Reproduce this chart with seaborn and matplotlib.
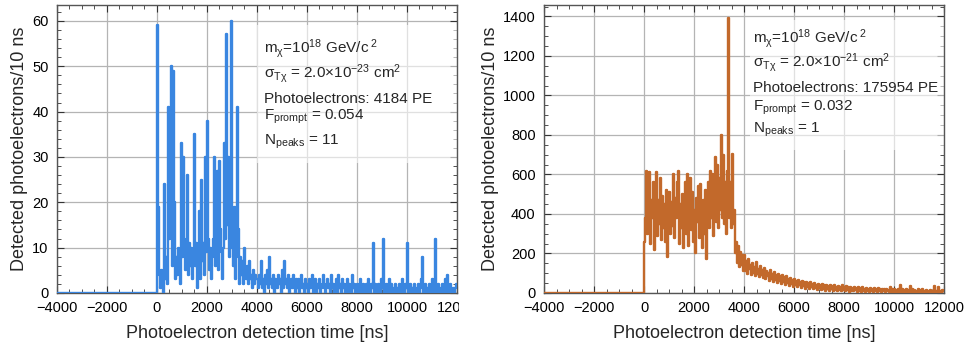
import numpy as np
import pandas as pd
import matplotlib
matplotlib.use('Agg')
import matplotlib.pyplot as plt
from matplotlib.ticker import MultipleLocator, AutoMinorLocator
from matplotlib.transforms import Bbox, TransformedBbox
from matplotlib.patches import Rectangle
import seaborn as sns

# ------------------------------------------------------------
# data, one value per 40 ns from t = 0 ns
# ------------------------------------------------------------
T_START, T_STEP = 0, 40
X_MIN, X_MAX = -4000, 12000

left_pe = [
    # 0 - 3960 ns
    59, 19, 4, 1, 5, 2, 0, 24, 3, 8, 2, 41, 12, 20, 50, 6, 49, 20, 3, 8,
    4, 10, 6, 2, 33, 8, 30, 12, 5, 9, 26, 4, 11, 6, 10, 3, 8, 35, 6, 11,
    1, 5, 18, 3, 25, 7, 11, 4, 30, 9, 38, 12, 5, 10, 3, 8, 12, 30, 6, 21,
    27, 5, 29, 14, 9, 3, 10, 33, 12, 57, 15, 30, 8, 20, 60, 10, 6, 19, 3, 8,
    41, 14, 2, 8, 4, 7, 2, 10, 5, 3, 6, 2, 7, 3, 4, 1, 5, 2, 4, 3,
    # 4000 - 11960 ns
    3, 1, 4, 2, 7, 1, 3, 0, 4, 2, 5, 1, 8, 2, 3, 1, 4, 0, 3, 2,
    1, 4, 2, 3, 0, 5, 1, 7, 2, 3, 1, 4, 0, 2, 3, 1, 4, 2, 0, 3,
    1, 3, 0, 2, 4, 1, 2, 0, 3, 1, 2, 0, 3, 1, 2, 4, 0, 1, 3, 0,
    2, 1, 3, 0, 1, 2, 4, 1, 0, 2, 3, 1, 2, 0, 4, 1, 2, 0, 1, 3,
    0, 4, 1, 2, 0, 3, 1, 2, 0, 1, 3, 0, 2, 1, 0, 4, 1, 2, 0, 1,
    2, 0, 1, 3, 0, 1, 2, 0, 1, 2, 0, 3, 1, 0, 2, 1, 11, 0, 2, 1,
    0, 2, 1, 0, 3, 1, 12, 0, 1, 2, 0, 1, 3, 0, 2, 1, 0, 1, 2, 0,
    1, 0, 2, 1, 0, 3, 1, 0, 2, 1, 11, 0, 1, 2, 0, 1, 0, 2, 1, 0,
    1, 2, 0, 1, 3, 8, 0, 1, 2, 0, 1, 0, 2, 1, 0, 3, 1, 0, 12, 1,
    0, 2, 1, 0, 1, 2, 0, 1, 3, 0, 4, 1, 0, 2, 1, 0, 1, 0, 1, 2,
]

right_pe = [
    # 0 - 3960 ns
    260, 380, 620, 300, 480, 610, 250, 470, 380, 560, 220, 440, 610, 290, 470, 350, 580, 270, 490, 330,
    450, 260, 520, 180, 420, 510, 300, 460, 340, 600, 280, 480, 380, 560, 620, 250, 450, 330, 500, 230,
    420, 560, 300, 600, 240, 470, 580, 320, 510, 260, 420, 200, 480, 360, 540, 280, 550, 400, 230, 470,
    300, 520, 170, 450, 560, 330, 620, 380, 600, 290, 520, 690, 360, 650, 330, 580, 420, 800, 380, 700,
    350, 560, 300, 620, 1390, 380, 560, 330, 705, 350, 420, 200, 260, 150, 240, 130, 210, 140, 190, 110,
    # 4000 - 11960 ns
    190, 110, 160, 95, 170, 120, 140, 90, 150, 100, 130, 85, 155, 95, 120, 80, 135, 90, 115, 75,
    125, 70, 110, 85, 100, 60, 115, 70, 95, 55, 105, 65, 90, 50, 95, 60, 85, 45, 90, 55,
    80, 40, 85, 50, 70, 35, 75, 45, 65, 30, 70, 40, 60, 28, 65, 38, 55, 25, 62, 35,
    55, 22, 58, 30, 50, 20, 55, 28, 45, 18, 52, 25, 42, 15, 48, 25, 40, 14, 45, 22,
    38, 12, 42, 20, 36, 10, 40, 18, 34, 12, 38, 15, 30, 10, 36, 16, 32, 8, 40, 14,
    30, 8, 35, 15, 28, 6, 32, 12, 26, 8, 30, 14, 24, 6, 28, 10, 25, 5, 30, 12,
    22, 6, 27, 10, 20, 4, 25, 8, 22, 5, 26, 10, 18, 4, 24, 8, 20, 3, 22, 9,
    18, 4, 22, 8, 16, 3, 30, 6, 20, 4, 18, 7, 15, 2, 20, 6, 38, 3, 18, 6,
    16, 3, 20, 5, 14, 2, 35, 4, 18, 3, 16, 6, 12, 2, 18, 4, 14, 1, 22, 5,
    12, 2, 16, 4, 10, 1, 14, 3, 12, 2, 35, 4, 10, 1, 30, 3, 12, 0, 14, 8,
]

x_ticks = [-4000, -2000, 0, 2000, 4000, 6000, 8000, 10000, 12000]
panel_text = [
    [r'm$_{\chi}$=10$^{18}$ GeV/c$^{\ 2}$',
     r'$\sigma_{T\chi}$ = 2.0$\times$10$^{-23}$ cm$^{2}$',
     'Photoelectrons: 4184 PE',
     r'F$_{prompt}$ = 0.054',
     r'N$_{peaks}$ = 11'],
    [r'm$_{\chi}$=10$^{18}$ GeV/c$^{\ 2}$',
     r'$\sigma_{T\chi}$ = 2.0$\times$10$^{-21}$ cm$^{2}$',
     'Photoelectrons: 175954 PE',
     r'F$_{prompt}$ = 0.032',
     r'N$_{peaks}$ = 1'],
]
COLORS = ['#3a86e0', '#c2692b']


def build_frame(values):
    t = T_START + T_STEP * np.arange(len(values))
    t = np.concatenate([[X_MIN], t, [X_MAX]])
    v = np.concatenate([[0], values, [values[-1]]])
    return pd.DataFrame({'time': t, 'pe': v})


sns.set_theme(style='ticks')
plt.rcParams['font.family'] = ['Liberation Sans', 'DejaVu Sans']
plt.rcParams['mathtext.default'] = 'regular'
plt.rcParams['mathtext.fontset'] = 'custom'
plt.rcParams['mathtext.rm'] = 'Liberation Sans'
plt.rcParams['mathtext.it'] = 'Liberation Sans'

fig = plt.figure(figsize=(9.67, 3.49), dpi=100)
ax_pos = [[0.0589, 0.1605, 0.4137, 0.8252], [0.5626, 0.1605, 0.4137, 0.8252]]
frames = [build_frame(left_pe), build_frame(right_pe)]
ylims = [(0, 63.5), (0, 1458)]
ymajor = [10, 200]
yminor = [5, 4]
text_x = [0.5175, 0.5225]
text_y = [[0.833, 0.747, 0.660, 0.601, 0.514],
          [0.868, 0.785, 0.698, 0.635, 0.556]]
box = [(0.50, 0.45, 0.50, 0.48), (0.515, 0.497, 0.485, 0.451)]

for k in range(2):
    ax = fig.add_axes(ax_pos[k])
    sns.lineplot(data=frames[k], x='time', y='pe', ax=ax, color=COLORS[k],
                 drawstyle='steps-post', estimator=None, lw=1.7, zorder=3)
    ax.set_xlim(X_MIN, X_MAX)
    ax.set_ylim(*ylims[k])
    ax.set_xticks(x_ticks)
    ax.set_xticklabels(['\u22124000', '\u22122000'] + [str(x) for x in x_ticks[2:]])
    ax.xaxis.set_minor_locator(AutoMinorLocator(4))
    ax.yaxis.set_major_locator(MultipleLocator(ymajor[k]))
    ax.yaxis.set_minor_locator(AutoMinorLocator(yminor[k]))
    ax.tick_params(which='both', direction='in', top=True, right=True,
                   labelsize=10.5, colors='#333333', labelcolor='black')
    ax.tick_params(which='major', length=5, width=0.8, pad=6)
    ax.tick_params(which='minor', length=3, width=0.6)
    ax.grid(True, which='major', color='#b4b4b4', lw=0.9, zorder=0)
    for s in ax.spines.values():
        s.set_color('#555555')
        s.set_linewidth(1.0)
    ax.set_xlabel('Photoelectron detection time [ns]', fontsize=13, labelpad=7)
    ax.set_ylabel('Detected photoelectrons/10 ns', fontsize=13, labelpad=3)

    # half transparent legend pad, grid shows faintly through it
    bx, by, bw, bh = box[k]
    ax.add_patch(Rectangle((bx, by), bw, bh, transform=ax.transAxes,
                           facecolor='white', edgecolor='none', alpha=0.6, zorder=2))
    for line, ty in zip(panel_text[k], text_y[k]):
        ax.text(text_x[k], ty, line, transform=ax.transAxes, fontsize=11,
                va='baseline', ha='left', zorder=4)

    if k == 0:
        # the left image is cropped at its frame, cutting the last tick label
        clip = TransformedBbox(Bbox([[0, 0], [0.4747, 1]]), fig.transFigure)
        for lab in ax.get_xticklabels():
            lab.set_clip_box(clip)
            lab.set_clip_on(True)

fig.savefig('out.png', dpi=100)
